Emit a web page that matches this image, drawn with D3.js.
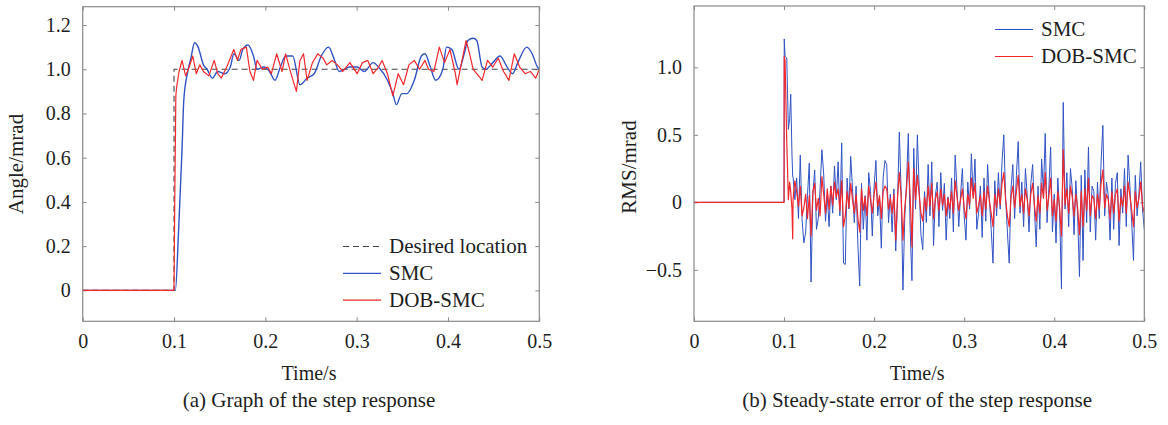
<!DOCTYPE html>
<html>
<head>
<meta charset="utf-8">
<script src="https://cdn.jsdelivr.net/npm/d3@7"></script>
<style>
  html, body { margin: 0; padding: 0; background: #fff; }
  svg { display: block; }
  text { font-family: "Liberation Serif", "Times New Roman", serif; fill: #1e1e1e; }
</style>
</head>
<body>
<svg id="chart" width="1168" height="425"></svg>
<script>
// ---------------- DATA ----------------
const timeTicks = [0, 0.1, 0.2, 0.3, 0.4, 0.5];
const timeTickLabels = ["0", "0.1", "0.2", "0.3", "0.4", "0.5"];
const angleTicks = [0, 0.2, 0.4, 0.6, 0.8, 1.0, 1.2];
const angleTickLabels = ["0", "0.2", "0.4", "0.6", "0.8", "1.0", "1.2"];
const rmsTicks = [-0.5, 0, 0.5, 1.0];
const rmsTickLabels = ["\u22120.5", "0", "0.5", "1.0"];

// (a) desired step
const desiredT = [0, 0.1, 0.1, 0.5];
const desiredV = [0, 0, 1, 1];

// (a) SMC step response
const smcStepT = [0, 0.1, 0.1015, 0.1049, 0.1088, 0.1107, 0.1146, 0.1185, 0.1225, 0.1264, 0.1322, 0.1362, 0.142, 0.1479, 0.1557, 0.1616, 0.1655, 0.1714, 0.1753, 0.1811, 0.187, 0.1909, 0.1987, 0.2046, 0.2105, 0.2164, 0.2222, 0.23, 0.2379, 0.2457, 0.2535, 0.2613, 0.2692, 0.275, 0.2809, 0.2926, 0.3005, 0.3083, 0.3181, 0.3239, 0.3337, 0.3396, 0.3435, 0.3494, 0.3552, 0.3631, 0.3709, 0.3748, 0.3807, 0.3865, 0.3944, 0.3983, 0.4041, 0.412, 0.4178, 0.4218, 0.4276, 0.4315, 0.4374, 0.4413, 0.4491, 0.457, 0.4648, 0.4707, 0.4765, 0.4863, 0.4922, 0.498, 0.5];
const smcStepV = [0, 0, 0.0, 0.26, 0.64, 0.86, 0.98, 1.05, 1.12, 1.10, 1.02, 1.00, 0.96, 0.99, 0.98, 1.01, 1.07, 1.04, 1.09, 1.11, 1.06, 1.00, 1.01, 0.99, 0.95, 1.01, 1.06, 1.06, 0.93, 0.96, 0.98, 1.06, 1.10, 1.05, 0.99, 1.01, 1.01, 0.99, 1.03, 1.01, 0.95, 0.89, 0.84, 0.89, 0.89, 0.95, 1.06, 1.07, 1.01, 0.95, 1.00, 1.10, 1.09, 1.00, 1.07, 1.13, 1.14, 1.13, 1.01, 1.00, 1.03, 1.06, 1.01, 0.98, 1.03, 1.10, 1.07, 1.01, 1.00];

// (a) DOB-SMC step response
const dobStepT = [0, 0.1, 0.1008, 0.102, 0.1029, 0.1055, 0.1088, 0.1127, 0.1166, 0.1205, 0.1244, 0.1283, 0.1322, 0.1381, 0.144, 0.1479, 0.1518, 0.1577, 0.1655, 0.1694, 0.1733, 0.1792, 0.1831, 0.187, 0.1909, 0.1968, 0.2027, 0.2066, 0.2124, 0.2183, 0.2222, 0.2281, 0.234, 0.2379, 0.2418, 0.2457, 0.2516, 0.2574, 0.2633, 0.2672, 0.2731, 0.279, 0.2848, 0.2926, 0.3005, 0.3063, 0.3122, 0.3181, 0.3239, 0.3279, 0.3337, 0.3396, 0.3455, 0.3513, 0.3572, 0.3631, 0.3689, 0.3748, 0.3787, 0.3846, 0.3905, 0.3963, 0.4022, 0.4081, 0.41, 0.4139, 0.4198, 0.4237, 0.4276, 0.4335, 0.4374, 0.4433, 0.4491, 0.455, 0.4609, 0.4667, 0.4726, 0.4785, 0.4844, 0.4902, 0.4961, 0.5];
const dobStepV = [0, 0, 0.40, 0.88, 0.92, 0.99, 1.04, 0.97, 1.01, 1.06, 0.98, 1.02, 0.99, 0.97, 1.04, 0.98, 0.96, 1.01, 1.09, 1.04, 1.09, 1.10, 0.99, 0.95, 1.04, 1.00, 1.01, 0.98, 1.07, 0.99, 1.07, 0.98, 0.90, 1.04, 1.07, 0.95, 1.03, 1.07, 1.05, 1.02, 1.04, 1.02, 0.99, 1.03, 0.98, 1.03, 1.04, 0.98, 1.01, 1.04, 0.98, 0.88, 0.98, 0.93, 1.02, 1.04, 1.00, 1.04, 1.00, 0.99, 1.10, 1.03, 1.09, 0.98, 0.93, 1.01, 1.13, 1.07, 1.00, 0.97, 0.95, 1.04, 1.01, 1.05, 0.99, 0.95, 1.07, 1.01, 0.98, 0.99, 0.96, 1.00];

// (b) error: transient head (explicit times)
const errHeadT = [0, 0.1, 0.1002, 0.1011, 0.103, 0.1048, 0.1062, 0.1074, 0.1088, 0.1096];
const smcErrHead = [0, 0, 1.21, 1.08, 1.07, 0.54, 0.62, 0.80, 0.35, 0.19];
const dobErrHead = [0, 0, 1.08, 1.05, 0.45, 0.02, 0.15, 0.08, -0.05, -0.27];

// (b) error: tail sampled every 2 ms starting at 0.110 s
const errTailStart = 0.110;
const errTailStep = 0.002;
const smcErrTail = [
  0.19, 0.02, 0.18, -0.12, 0.35, -0.13, -0.30, -0.22, 0.05, 0.29,
  -0.59, 0.06, 0.24, -0.20, -0.12, 0.10, 0.39, 0.21, -0.14, 0.05,
  -0.18, 0.12, -0.08, 0.27, 0.02, 0.30, -0.10, 0.44, -0.45, -0.46,
  0.18, -0.05, 0.34, 0.10, -0.15, 0.12, -0.32, -0.62, 0.14, -0.20,
  0.05, -0.28, 0.22, 0.08, -0.25, 0.12, 0.31, -0.10, 0.03, -0.34,
  0.18, 0.31, 0.28, -0.15, 0.06, -0.22, 0.10, -0.36, 0.02, 0.52,
  0.08, -0.65, -0.12, 0.15, 0.51, -0.20, -0.58, 0.40, -0.05, 0.50,
  0.12, -0.24, -0.35, 0.08, -0.15, 0.28, -0.10, 0.30, -0.32, 0.05,
  0.15, -0.18, 0.22, -0.06, 0.14, -0.28, 0.04, -0.12, 0.18, -0.22,
  0.35, 0.10, -0.18, 0.06, 0.25, -0.10, -0.28, 0.15, -0.05, 0.36,
  0.05, 0.32, -0.20, -0.08, 0.12, -0.26, 0.18, -0.14, 0.28, 0.02,
  -0.20, -0.45, 0.16, -0.10, 0.22, -0.05, 0.30, 0.50, 0.04, -0.22,
  -0.45, 0.10, 0.28, -0.12, 0.20, 0.45, -0.08, 0.15, -0.18, 0.25,
  0.05, -0.22, 0.14, 0.28, -0.05, -0.33, 0.12, -0.20, 0.32, 0.08,
  0.51, -0.15, 0.10, 0.41, -0.22, 0.06, -0.30, 0.18, -0.08, -0.64,
  0.74, -0.05, 0.22, -0.18, 0.25, 0.10, -0.24, 0.16, -0.10, -0.55,
  0.20, -0.43, 0.24, -0.15, 0.41, -0.22, 0.12, 0.08, -0.28, 0.15,
  -0.12, 0.30, 0.57, -0.10, 0.15, 0.05, -0.28, 0.18, -0.20, 0.14,
  0.22, -0.32, 0.10, -0.08, 0.25, -0.18, 0.35, 0.12, -0.15, -0.43,
  0.20, -0.10, 0.06, 0.30, -0.05, -0.20
];
const dobErrTail = [
  0.02, 0.16, 0.08, -0.03, 0.12, -0.10, -0.04, 0.06, -0.12, 0.05,
  -0.25, 0.08, 0.14, -0.06, 0.03, -0.10, 0.19, 0.06, -0.08, 0.10,
  -0.05, 0.12, -0.02, 0.15, 0.04, 0.10, -0.06, 0.16, -0.18, -0.10,
  0.08, -0.04, 0.14, 0.02, -0.08, 0.06, -0.12, -0.22, 0.10, -0.06,
  0.04, -0.10, 0.12, 0.02, -0.08, 0.06, 0.15, -0.03, 0.05, -0.12,
  0.08, 0.12, 0.10, -0.05, 0.03, -0.08, 0.06, -0.28, 0.04, 0.22,
  0.05, -0.28, -0.04, 0.10, 0.30, 0.05, -0.33, 0.25, 0.02, 0.20,
  0.06, -0.08, -0.14, 0.04, -0.06, 0.12, -0.03, 0.14, -0.12, 0.02,
  0.08, -0.06, 0.10, -0.02, 0.06, -0.10, 0.03, -0.05, 0.08, -0.08,
  0.16, 0.04, -0.06, 0.02, 0.10, -0.04, -0.12, 0.06, -0.02, 0.18,
  0.03, 0.14, -0.08, -0.02, 0.05, -0.10, 0.08, -0.05, 0.12, 0.01,
  -0.08, -0.18, 0.06, -0.04, 0.10, -0.02, 0.14, 0.22, 0.02, -0.10,
  -0.18, 0.04, 0.12, -0.04, 0.08, 0.20, -0.03, 0.06, -0.08, 0.10,
  0.02, -0.10, 0.06, 0.14, -0.02, -0.14, 0.05, -0.08, 0.14, 0.03,
  0.22, -0.06, 0.04, 0.18, -0.10, 0.02, -0.14, 0.08, -0.04, -0.25,
  0.39, -0.02, 0.10, -0.08, 0.12, 0.04, -0.10, 0.06, -0.04, -0.24,
  0.08, -0.18, 0.10, -0.06, 0.18, -0.10, 0.05, 0.03, -0.12, 0.06,
  -0.05, 0.14, 0.24, -0.04, 0.06, 0.02, -0.12, 0.08, -0.08, 0.06,
  0.10, -0.14, 0.04, -0.03, 0.12, -0.08, 0.15, 0.05, -0.06, -0.18,
  0.08, -0.04, 0.03, 0.15, -0.02, -0.08
];

const legendA = ["Desired location", "SMC", "DOB-SMC"];
const legendB = ["SMC", "DOB-SMC"];
const captions = ["(a) Graph of the step response", "(b) Steady-state error of the step response"];
const xTitle = "Time/s";
const yTitles = ["Angle/mrad", "RMS/mrad"];

// ---------------- DRAWING ----------------
const BLUE = "#3153c4", RED = "#f2282c", DASH = "#444", AXIS = "#8a8a8a";
const FONT = '"Liberation Serif", "Times New Roman", serif';
const svg = d3.select("#chart");

function zip(ts, vs) { return ts.map((t, i) => [t, vs[i]]); }
function tail(vals) { return vals.map((v, i) => [errTailStart + errTailStep * i, v]); }

function panel(cfg) {
  const x = d3.scaleLinear().domain([0, 0.5]).range([cfg.x0, cfg.x1]);
  const y = d3.scaleLinear().domain(cfg.yDomain).range([cfg.y1, cfg.y0]);
  const g = svg.append("g");

  const cid = "clip" + cfg.id;
  svg.append("clipPath").attr("id", cid).append("rect")
    .attr("x", cfg.x0).attr("y", cfg.y0).attr("width", cfg.x1 - cfg.x0).attr("height", cfg.y1 - cfg.y0);

  const styleAxis = sel => {
    sel.attr("font-family", FONT);
    sel.select(".domain").remove();
    sel.selectAll(".tick line").attr("stroke", AXIS).attr("stroke-width", 1);
    sel.selectAll(".tick text").style("font-size", "20px").attr("fill", "#1e1e1e")
      .style("font-family", FONT);
  };

  g.append("g").attr("transform", `translate(0,${cfg.y1})`)
    .call(d3.axisBottom(x).tickValues(timeTicks).tickFormat((d, i) => timeTickLabels[i])
      .tickSizeInner(-4).tickSizeOuter(0).tickPadding(12.5))
    .call(styleAxis);
  g.append("g").attr("transform", `translate(0,${cfg.y0})`)
    .call(d3.axisTop(x).tickValues(timeTicks).tickFormat("").tickSizeInner(-4).tickSizeOuter(0))
    .call(styleAxis);
  g.append("g").attr("transform", `translate(${cfg.x0},0)`)
    .call(d3.axisLeft(y).tickValues(cfg.yTicks).tickFormat((d, i) => cfg.yLabels[i])
      .tickSizeInner(-4).tickSizeOuter(0).tickPadding(12))
    .call(styleAxis);
  g.append("g").attr("transform", `translate(${cfg.x1},0)`)
    .call(d3.axisRight(y).tickValues(cfg.yTicks).tickFormat("").tickSizeInner(-4).tickSizeOuter(0))
    .call(styleAxis);

  const lines = g.append("g").attr("clip-path", `url(#${cid})`);
  cfg.series.forEach(s => {
    const gen = d3.line().x(d => x(d[0])).y(d => y(d[1]));
    if (s.curve) gen.curve(s.curve);
    lines.append("path").datum(s.data)
      .attr("fill", "none").attr("stroke", s.color).attr("stroke-width", s.width || 1.2)
      .attr("stroke-dasharray", s.dash || null).attr("stroke-linejoin", "round")
      .attr("d", gen);
  });

  g.append("rect").attr("x", cfg.x0).attr("y", cfg.y0)
    .attr("width", cfg.x1 - cfg.x0).attr("height", cfg.y1 - cfg.y0)
    .attr("fill", "none").attr("stroke", AXIS).attr("stroke-width", 1.2);

  cfg.legend.forEach((it, i) => {
    const by = cfg.legY + i * cfg.legDy;
    g.append("line").attr("x1", cfg.legX).attr("x2", cfg.legX + 38)
      .attr("y1", by - 6.5).attr("y2", by - 6.5)
      .attr("stroke", it.color).attr("stroke-width", 1.2).attr("stroke-dasharray", it.dash || null);
    g.append("text").attr("x", cfg.legX + 46).attr("y", by)
      .style("font-size", "21px").text(it.label);
  });

  const cx = (cfg.x0 + cfg.x1) / 2;
  g.append("text").attr("x", cx - 2).attr("y", 380).attr("text-anchor", "middle")
    .style("font-size", "20px").text(xTitle);
  g.append("text").attr("x", cx - 2).attr("y", 407).attr("text-anchor", "middle")
    .style("font-size", "21px").text(cfg.caption);
  g.append("text").attr("transform", `translate(${cfg.yTitleX},${cfg.yTitleY}) rotate(-90)`)
    .attr("text-anchor", "middle").style("font-size", "21px").text(cfg.yTitle);
}

panel({
  id: "a", x0: 82.7, x1: 539.3, y0: 6.7, y1: 321.3, yDomain: [-0.14, 1.283],
  yTicks: angleTicks, yLabels: angleTickLabels,
  series: [
    { data: zip(desiredT, desiredV), color: DASH, dash: "6,4", width: 1.1 },
    { data: zip(smcStepT, smcStepV), color: BLUE, curve: d3.curveMonotoneX, width: 1.4 },
    { data: zip(dobStepT, dobStepV), color: RED, width: 1.2 }
  ],
  legend: [
    { label: legendA[0], color: DASH, dash: "6,4" },
    { label: legendA[1], color: BLUE },
    { label: legendA[2], color: RED }
  ],
  legX: 343, legY: 253, legDy: 26.8,
  caption: captions[0], yTitle: yTitles[0], yTitleX: 23, yTitleY: 164
});

panel({
  id: "b", x0: 694, x1: 1144.3, y0: 6, y1: 321.3, yDomain: [-0.881, 1.454],
  yTicks: rmsTicks, yLabels: rmsTickLabels,
  series: [
    { data: zip(errHeadT, smcErrHead).concat(tail(smcErrTail)), color: BLUE, width: 1.0 },
    { data: zip(errHeadT, dobErrHead).concat(tail(dobErrTail)), color: RED, width: 1.2 }
  ],
  legend: [
    { label: legendB[0], color: BLUE },
    { label: legendB[1], color: RED }
  ],
  legX: 995, legY: 36, legDy: 27,
  caption: captions[1], yTitle: yTitles[1], yTitleX: 636, yTitleY: 167
});
</script>
</body>
</html>
